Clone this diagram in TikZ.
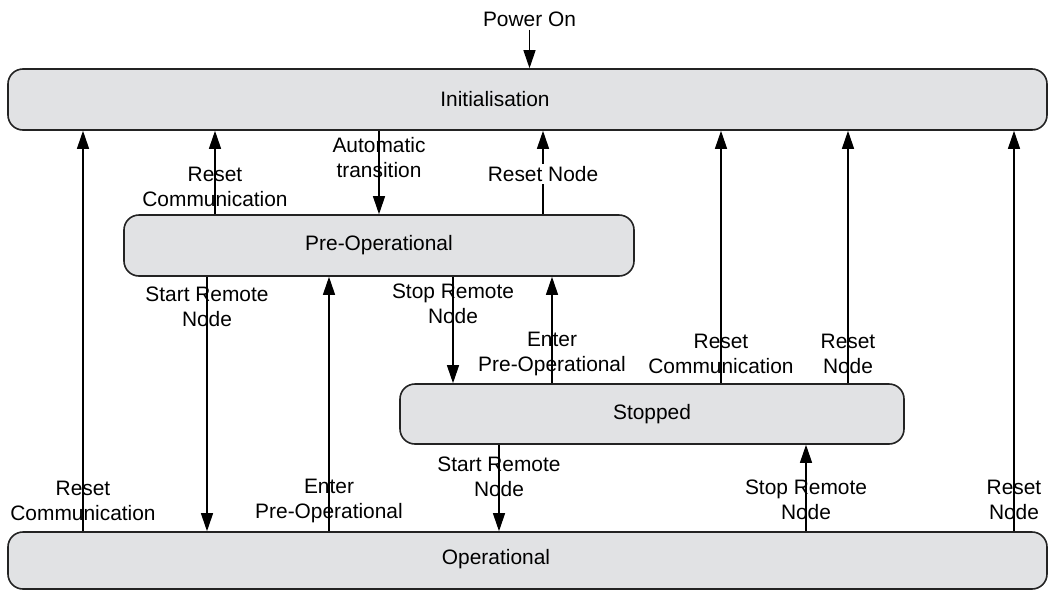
\documentclass[tikz,border=0pt]{standalone}
\usepackage{fontspec}
\setmainfont{Liberation Sans}
\usetikzlibrary{arrows.meta}
\definecolor{boxfill}{RGB}{225,226,228}
\definecolor{boxline}{RGB}{35,35,35}
\begin{document}
\begin{tikzpicture}[x=1pt,y=-1pt,
  every node/.style={font=\fontsize{20.9}{25}\selectfont},
  state/.style={draw=boxline, line width=1.6pt, fill=boxfill, rounded corners=15pt, inner sep=0pt},
  trans/.style={line width=1.2pt, -{Triangle[length=18pt,width=12pt]}},
  lbl/.style={align=center, inner sep=0pt},
  lblw/.style={lbl, fill=white, inner sep=2pt}]
\useasboundingbox (0,0) rectangle (1049,592);
% states
\node[state, minimum width=1039pt, minimum height=61pt] (init) at (527.5,99.5) {};
\node (initt) at (495,99) {Initialisation};
\node[state, minimum width=510pt, minimum height=61pt] (pre) at (379,245.5) {Pre-Operational};
\node[state, minimum width=504pt, minimum height=60pt] (stop) at (652,414) {Stopped};
\node[state, minimum width=1039pt, minimum height=57pt] (op) at (527.5,560.5) {};
\node (opt) at (496,559) {Operational};
\node[lbl] (pwr) at (529.5,19) {Power On};
% x positions
\coordinate (xa) at (83,0);
\coordinate (xb) at (215,0);
\coordinate (xc) at (379,0);
\coordinate (xd) at (543,0);
\coordinate (xe) at (207,0);
\coordinate (xf) at (329,0);
\coordinate (xg) at (453,0);
\coordinate (xh) at (552,0);
\coordinate (xi) at (721,0);
\coordinate (xj) at (848,0);
\coordinate (xk) at (1014,0);
\coordinate (xl) at (499,0);
\coordinate (xm) at (806,0);
% transitions
\draw[trans] ([yshift=-3pt]pwr.south) -- (init.north -| pwr);
\draw[trans] (op.north -| xa) -- (init.south -| xa);
\draw[trans] (pre.north -| xb) -- (init.south -| xb);
\draw[trans] (init.south -| xc) -- (pre.north -| xc);
\draw[trans] (pre.north -| xd) -- (init.south -| xd);
\draw[trans] (pre.south -| xe) -- (op.north -| xe);
\draw[trans] (op.north -| xf) -- (pre.south -| xf);
\draw[trans] (pre.south -| xg) -- (stop.north -| xg);
\draw[trans] (stop.north -| xh) -- (pre.south -| xh);
\draw[trans] (stop.north -| xi) -- (init.south -| xi);
\draw[trans] (stop.north -| xj) -- (init.south -| xj);
\draw[trans] (op.north -| xk) -- (init.south -| xk);
\draw[trans] (stop.south -| xl) -- (op.north -| xl);
\draw[trans] (op.north -| xm) -- (stop.south -| xm);
% labels
\node[lbl] (la) at (83,501) {Reset\\Communication};
\node[lbl] (lb) at (215,187) {Reset\\Communication};
\node[lbl] (lc) at (379,158) {Automatic\\transition};
\node[lblw] (ld) at (543,174) {Reset Node};
\node[lbl] (le) at (207,307) {Start Remote\\Node};
\node[lbl] (lf) at (329,501) {Enter\\Pre-Operational};
\node[lbl] (lg) at (453,304) {Stop Remote\\Node};
\node[lbl] (lh) at (552,354) {Enter\\Pre-Operational};
\node[lbl] (li) at (721,354) {Reset\\Communication};
\node[lbl] (lj) at (848,354) {Reset\\Node};
\node[lbl] (lk) at (1014,500) {Reset\\Node};
\node[lbl] (ll) at (499,477) {Start Remote\\Node};
\node[lbl] (lm) at (806,500) {Stop Remote\\Node};
\end{tikzpicture}
\end{document}
